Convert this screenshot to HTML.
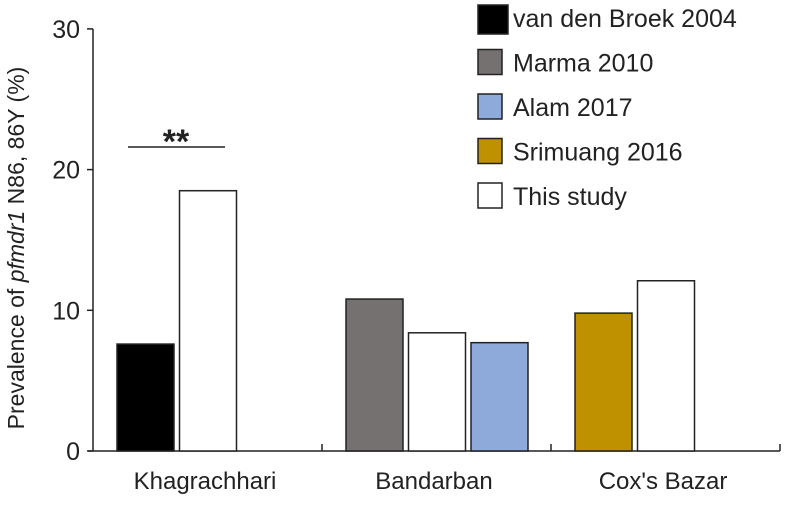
<!DOCTYPE html>
<html><head><meta charset="utf-8"><style>
body{margin:0;background:#fff;}
svg text{font-family:"Liberation Sans",Arial,sans-serif;fill:#222;}
</style></head><body>
<svg id="chart" width="789" height="503"></svg>
<script>
const categories=["Khagrachhari","Bandarban","Cox's Bazar"];
const seriesNames=["van den Broek 2004","Marma 2010","Alam 2017","Srimuang 2016","This study"];
const seriesColors=["#000000","#767171","#8eaadb","#bf9000","#ffffff"];
// per category: [seriesIndex, value]
const khagrachhariValues=[[0,7.6],[4,18.5]];
const bandarbanValues=[[1,10.8],[4,8.4],[2,7.7]];
const coxsBazarValues=[[3,9.8],[4,12.1]];
const groupValues=[khagrachhariValues,bandarbanValues,coxsBazarValues];
const yTicks=[0,10,20,30];

const NS="http://www.w3.org/2000/svg";
const svg=document.getElementById('chart');
function mk(t,a,p){const e=document.createElementNS(NS,t);for(const k in a)e.setAttribute(k,a[k]);(p||svg).appendChild(e);return e;}
const x0=93,groupW=229,y0=451,pxPer=14.07;
const y=v=>y0-v*pxPer;
const gx=i=>x0+i*groupW;

let e=mk('line',{x1:x0,y1:y(30),x2:x0,y2:y0,stroke:'#222','stroke-width':1.5});

e=mk('line',{x1:x0-5,y1:y0,x2:gx(3),y2:y0,stroke:'#222','stroke-width':1.5});

yTicks.forEach(t=>{
  let l=mk('line',{x1:x0-6,y1:y(t),x2:x0,y2:y(t),stroke:'#222','stroke-width':1.5});
  
  let tx=mk('text',{x:80,y:y(t)+9,'text-anchor':'end','font-size':25});tx.textContent=t;
  
});
for(let i=1;i<=3;i++){
  let l=mk('line',{x1:gx(i),y1:y0-7,x2:gx(i),y2:y0,stroke:'#222','stroke-width':1.5});
  
}
categories.forEach((c,i)=>{
  let tx=mk('text',{x:gx(i)+112,y:489,'text-anchor':'middle','font-size':24});tx.textContent=c;
  
});
groupValues.forEach((g,i)=>{
  g.forEach((d,j)=>{
    const bx=gx(i)+24+j*62.5;
    let r=mk('rect',{x:bx,y:y(d[1]),width:57,height:d[1]*pxPer,fill:seriesColors[d[0]],stroke:'#222','stroke-width':1.5});
    
    
  });
});
e=mk('line',{x1:128,y1:147,x2:225,y2:147,stroke:'#222','stroke-width':1.5});

e=mk('text',{x:176,y:153,'text-anchor':'middle','font-size':34,'font-weight':'bold'});e.textContent='**';

e=mk('text',{x:0,y:0,'text-anchor':'middle','font-size':23,transform:'translate(24,248) rotate(-90)'});
e.innerHTML='Prevalence of <tspan font-style="italic">pfmdr1</tspan> N86, 86Y (%)';

seriesNames.forEach((n,i)=>{
  const cy=18+i*44.5;
  let r=mk('rect',{x:478,y:cy-13,width:i==0?30:24,height:i==0?29:25,fill:seriesColors[i],stroke:'#222','stroke-width':1.5});
  
  let t=mk('text',{x:513,y:cy+9,'font-size':25});t.textContent=n;
  
});
</script>
</body></html>
